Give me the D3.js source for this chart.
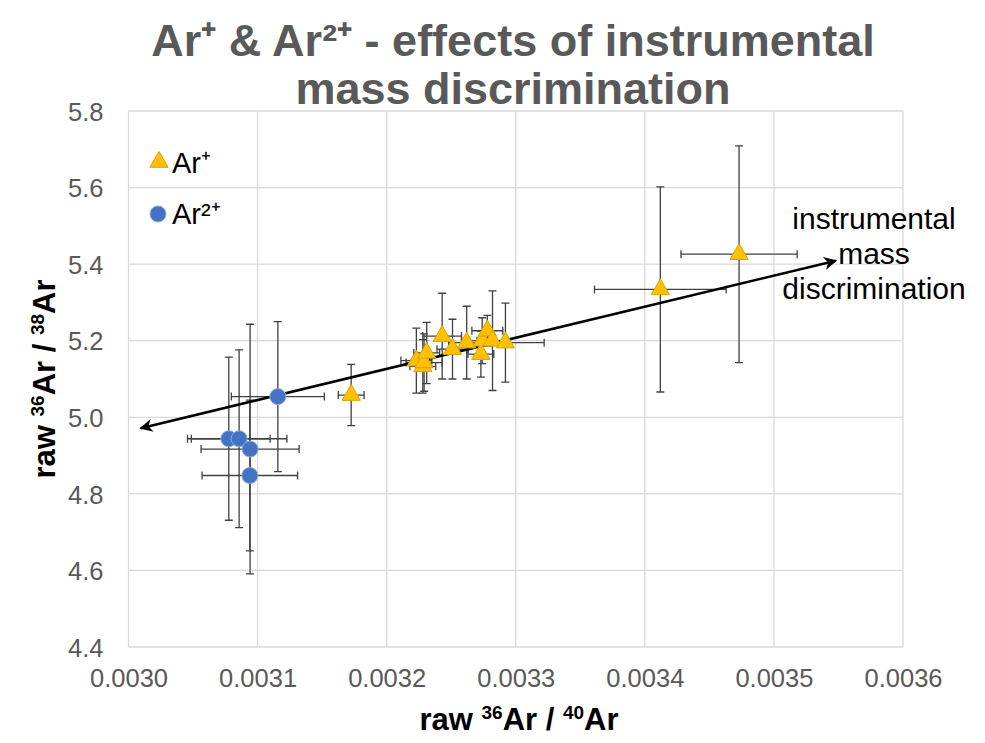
<!DOCTYPE html>
<html>
<head>
<meta charset="utf-8">
<script src="https://cdn.jsdelivr.net/npm/d3@7"></script>
<style>
  body { margin: 0; background: #fff; }
  text { font-family: "Liberation Sans", Arial, sans-serif; }
</style>
</head>
<body>
<div id="chart"></div>
<script>
// Ar+ measurements
const arPlusX    = [0.0031725, 0.003223, 0.003228, 0.003229, 0.003231, 0.003243, 0.003251, 0.003262,
                    0.003273, 0.003274, 0.003278, 0.003282, 0.003292, 0.003412, 0.003473];
const arPlusY    = [5.058, 5.148, 5.133, 5.143, 5.168, 5.212, 5.178, 5.195,
                    5.165, 5.200, 5.226, 5.200, 5.195, 5.334, 5.426];
const arPlusXErr = [0.000010, 0.000012, 0.000010, 0.000014, 0.000010, 0.000015, 0.000012, 0.000014,
                    0.000010, 0.000016, 0.000012, 0.000012, 0.000030, 0.000051, 0.000045];
const arPlusYErr = [0.080, 0.085, 0.070, 0.075, 0.080, 0.112, 0.078, 0.095,
                    0.060, 0.060, 0.040, 0.130, 0.103, 0.268, 0.283];

// Ar2+ measurements
const ar2PlusX    = [0.0030777, 0.0030857, 0.0030942, 0.0030940, 0.0031157];
const ar2PlusY    = [4.944, 4.944, 4.917, 4.848, 5.054];
const ar2PlusXErr = [0.000032, 0.000037, 0.000038, 0.000037, 0.000036];
const ar2PlusYErr = [0.213, 0.232, 0.326, 0.197, 0.196];

// mass discrimination arrow (start, end in data units)
const arrowFrom = [0.003548, 5.409];
const arrowTo   = [0.0030095, 4.9716];

const xTicks = [0.0030, 0.0031, 0.0032, 0.0033, 0.0034, 0.0035, 0.0036];
const yTicks = [4.4, 4.6, 4.8, 5.0, 5.2, 5.4, 5.6, 5.8];

const w = 985, h = 743;
const margin = {top: 111, right: 82, bottom: 96, left: 128.5};
const width = w - margin.left - margin.right;
const height = h - margin.top - margin.bottom;

const x = d3.scaleLinear().domain([0.0030, 0.0036]).range([0, width]);
const y = d3.scaleLinear().domain([4.4, 5.8]).range([height, 0]);

const svg = d3.select('#chart').append('svg')
  .attr('width', w)
  .attr('height', h);

svg.append('defs').append('marker')
  .attr('id', 'arrowhead')
  .attr('viewBox', '0 0 10 10')
  .attr('refX', 9).attr('refY', 5)
  .attr('markerWidth', 5).attr('markerHeight', 5)
  .attr('orient', 'auto-start-reverse')
  .append('path')
  .attr('d', 'M0,0 L10,5 L0,10 L3,5 Z')
  .attr('fill', '#000');

// title
const title = svg.append('text')
  .attr('text-anchor', 'middle')
  .attr('font-weight', 'bold')
  .attr('font-size', 45)
  .attr('fill', '#595959');
title.append('tspan').attr('x', 513).attr('y', 56).text('Ar⁺ & Ar²⁺ - effects of instrumental');
title.append('tspan').attr('x', 513).attr('y', 104).text('mass discrimination');

const chart = svg.append('g')
  .attr('transform', 'translate(' + margin.left + ',' + margin.top + ')');

// gridlines
chart.append('g')
  .selectAll('line.h')
  .data(yTicks)
  .enter().append('line')
  .attr('x1', 0).attr('x2', width)
  .attr('y1', d => y(d)).attr('y2', d => y(d))
  .attr('stroke', '#d9d9d9').attr('stroke-width', 1.3);

chart.append('g')
  .selectAll('line.v')
  .data(xTicks)
  .enter().append('line')
  .attr('y1', 0).attr('y2', height)
  .attr('x1', d => x(d)).attr('x2', d => x(d))
  .attr('stroke', '#d9d9d9').attr('stroke-width', 1.3);

// axes (labels only)
const xAxis = chart.append('g')
  .attr('transform', 'translate(0,' + height + ')')
  .call(d3.axisBottom(x).tickValues(xTicks).tickFormat(d3.format('.4f')).tickSize(0).tickPadding(22));
const yAxis = chart.append('g')
  .call(d3.axisLeft(y).tickValues(yTicks).tickFormat(d3.format('.1f')).tickSize(0).tickPadding(25));
[xAxis, yAxis].forEach(a => {
  a.select('.domain').remove();
  a.selectAll('text')
    .attr('font-family', '"Liberation Sans", Arial, sans-serif')
    .attr('font-size', 25.5)
    .attr('fill', '#595959');
});
yAxis.selectAll('text').attr('dy', '0.36em');

// axis titles with superscript mass numbers
function isotopeTitle(t, parts) {
  parts.forEach(p => {
    if (p.sup) {
      t.append('tspan').attr('font-size', 19).attr('dy', -11).text(p.sup);
    } else {
      t.append('tspan').attr('dy', p.after ? 11 : 0).text(p.text);
    }
  });
}

const xTitle = svg.append('text')
  .attr('x', 519).attr('y', 730)
  .attr('text-anchor', 'middle')
  .attr('font-weight', 'bold')
  .attr('font-size', 31)
  .attr('fill', '#000');
isotopeTitle(xTitle, [{text: 'raw '}, {sup: '36'}, {text: 'Ar / ', after: true}, {sup: '40'}, {text: 'Ar', after: true}]);

const yTitle = svg.append('text')
  .attr('transform', 'translate(55,379) rotate(-90)')
  .attr('text-anchor', 'middle')
  .attr('font-weight', 'bold')
  .attr('font-size', 31)
  .attr('fill', '#000');
isotopeTitle(yTitle, [{text: 'raw '}, {sup: '36'}, {text: 'Ar / ', after: true}, {sup: '38'}, {text: 'Ar', after: true}]);

// error bars
function errorBars(g, xs, ys, xe, ye) {
  const idx = d3.range(xs.length);
  const cap = 4;
  const bars = g.append('g')
    .attr('stroke', '#404040')
    .attr('stroke-width', 1.3)
    .attr('fill', 'none');
  idx.forEach(i => {
    const cx = x(xs[i]), cy = y(ys[i]);
    const x0 = x(xs[i] - xe[i]), x1 = x(xs[i] + xe[i]);
    const y0 = y(ys[i] - ye[i]), y1 = y(ys[i] + ye[i]);
    bars.append('path')
      .attr('d', 'M' + x0 + ',' + cy + 'H' + x1 +
                 'M' + x0 + ',' + (cy - cap) + 'V' + (cy + cap) +
                 'M' + x1 + ',' + (cy - cap) + 'V' + (cy + cap) +
                 'M' + cx + ',' + y0 + 'V' + y1 +
                 'M' + (cx - cap) + ',' + y0 + 'H' + (cx + cap) +
                 'M' + (cx - cap) + ',' + y1 + 'H' + (cx + cap));
  });
}

errorBars(chart, ar2PlusX, ar2PlusY, ar2PlusXErr, ar2PlusYErr);
errorBars(chart, arPlusX, arPlusY, arPlusXErr, arPlusYErr);

// arrow
chart.append('line')
  .attr('x1', x(arrowFrom[0])).attr('y1', y(arrowFrom[1]))
  .attr('x2', x(arrowTo[0])).attr('y2', y(arrowTo[1]))
  .attr('stroke', '#000').attr('stroke-width', 2.6)
  .attr('marker-start', 'url(#arrowhead)')
  .attr('marker-end', 'url(#arrowhead)');

const triangle = d3.symbol().type(d3.symbolTriangle).size(145);

chart.append('g')
  .selectAll('circle')
  .data(d3.range(ar2PlusX.length))
  .enter().append('circle')
  .attr('cx', i => x(ar2PlusX[i]))
  .attr('cy', i => y(ar2PlusY[i]))
  .attr('r', 8)
  .attr('fill', '#4472c4')
  .attr('stroke', '#8faadc')
  .attr('stroke-width', 1);

chart.append('g')
  .selectAll('path')
  .data(d3.range(arPlusX.length))
  .enter().append('path')
  .attr('d', triangle)
  .attr('transform', i => 'translate(' + x(arPlusX[i]) + ',' + y(arPlusY[i]) + ')')
  .attr('fill', '#ffc000')
  .attr('stroke', '#d9a300')
  .attr('stroke-width', 1);

// annotation
const note = svg.append('text')
  .attr('text-anchor', 'middle')
  .attr('font-size', 30)
  .attr('fill', '#000');
note.append('tspan').attr('x', 874).attr('y', 229).text('instrumental');
note.append('tspan').attr('x', 874).attr('y', 264).text('mass');
note.append('tspan').attr('x', 874).attr('y', 299).text('discrimination');

// legend
svg.append('path')
  .attr('d', triangle)
  .attr('transform', 'translate(159,162)')
  .attr('fill', '#ffc000')
  .attr('stroke', '#d9a300');
svg.append('text')
  .attr('x', 172).attr('y', 173)
  .attr('font-size', 29)
  .attr('fill', '#000')
  .text('Ar⁺');

svg.append('circle')
  .attr('cx', 158).attr('cy', 214)
  .attr('r', 8)
  .attr('fill', '#4472c4')
  .attr('stroke', '#8faadc');
svg.append('text')
  .attr('x', 172).attr('y', 224)
  .attr('font-size', 29)
  .attr('fill', '#000')
  .text('Ar²⁺');
</script>
</body>
</html>
